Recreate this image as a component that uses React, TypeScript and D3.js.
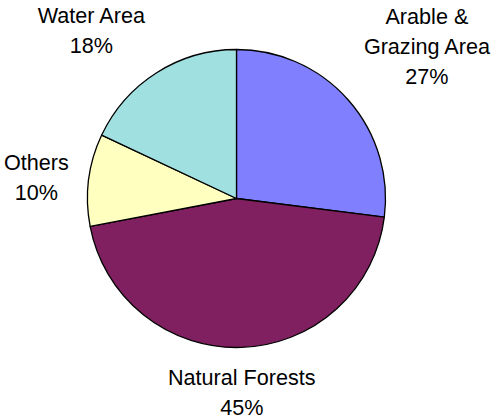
import React from "react";
import * as d3 from "d3";

const categories = ["Arable &\nGrazing Area", "Natural Forests", "Others", "Water Area"];
const shares = [27, 45, 10, 18];
const colors = ["#8080FF", "#802060", "#FFFFC0", "#A0E0E0"];

const W = 499;
const H = 419;
const cx = 236.5;
const cy = 198.5;
const R = 149;
const fontSize = 21.6;
const lineH = 30;
const ascent = 17.5;
const descent = 3;
const gap = 20;

type Slice = d3.PieArcDatum<number>;

function measure(text: string) {
  // rough Arial advance widths
  const w: Record<string, number> = {
    A: 0.667, G: 0.778, N: 0.722, F: 0.611, O: 0.778, W: 0.944,
    a: 0.556, b: 0.556, e: 0.556, g: 0.556, h: 0.556, i: 0.222, l: 0.222,
    n: 0.556, o: 0.556, r: 0.333, s: 0.5, t: 0.278, u: 0.556, z: 0.5,
    "&": 0.667, " ": 0.278, "%": 0.889,
  };
  let s = 0;
  for (const c of text) s += w[c] ?? 0.556;
  return s * fontSize;
}

function ramp(v: number) {
  const m = Math.min(1, Math.max(0, (Math.abs(v) - 0.2) / 0.3));
  return Math.sign(v) * m;
}

export default function App() {
  const pie = d3.pie<number>().sort(null).value((d) => d);
  const arcs = pie(shares);
  const arc = d3.arc<Slice>().innerRadius(0).outerRadius(R);

  return (
    <svg width={W} height={H} style={{ position: "absolute", left: 0, top: 0 }}>
      <rect width={W} height={H} fill="#ffffff" />
      <g transform={`translate(${cx},${cy})`}>
        {arcs.map((a, i) => (
          <path key={i} d={arc(a) ?? ""} fill={colors[i]} stroke="#000" strokeWidth={1.3} strokeLinejoin="round" />
        ))}
      </g>
      {arcs.map((a, i) => {
        const mid = (a.startAngle + a.endAngle) / 2;
        const sx = Math.sin(mid);
        const sy = -Math.cos(mid);
        const ax = cx + (R + gap) * sx;
        const ay = cy + (R + gap) * sy;
        const lines = [...categories[i].split("\n"), `${shares[i]}%`];
        const bw = Math.max(...lines.map(measure));
        const bh = ascent + lineH * (lines.length - 1) + descent;
        const bx = ax + ramp(sx) * (bw / 2);
        const by = ay + ramp(sy) * (bh / 2);
        const top = by - bh / 2;
        return (
          <text
            key={`l${i}`}
            x={bx}
            textAnchor="middle"
            fontFamily="Liberation Sans, Arial, sans-serif"
            fontSize={fontSize}
            fill="#000"
          >
            {lines.map((ln, j) => (
              <tspan key={j} x={bx} y={top + ascent + j * lineH}>
                {ln}
              </tspan>
            ))}
          </text>
        );
      })}
    </svg>
  );
}
